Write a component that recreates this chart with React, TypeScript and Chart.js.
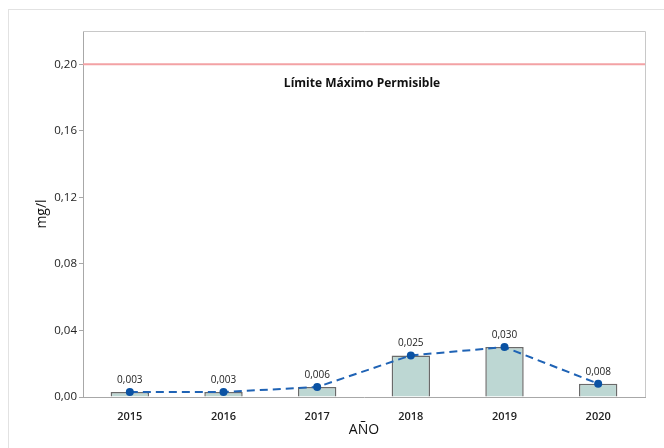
import React, { useEffect, useRef } from "react";
import { Chart, registerables } from "chart.js";

Chart.register(...registerables);

const years = ["2015", "2016", "2017", "2018", "2019", "2020"];
const values = [0.003, 0.003, 0.006, 0.025, 0.03, 0.008];
const valueLabels = ["0,003", "0,003", "0,006", "0,025", "0,030", "0,008"];
const limitValue = 0.2;
const limitLabel = "Límite Máximo Permisible";
const yTicks = [0, 0.04, 0.08, 0.12, 0.16, 0.2];

const FONT = "'Open Sans', 'Noto Sans', sans-serif";

const fmt = (v: number) => v.toFixed(2).replace(".", ",");

const overlay = {
  id: "overlay",
  beforeDatasetsDraw(chart: any) {
    const { ctx, chartArea, scales } = chart;
    const y = scales.y.getPixelForValue(limitValue);
    ctx.save();
    ctx.strokeStyle = "#c8c8c8";
    ctx.lineWidth = 1;
    ctx.beginPath();
    ctx.moveTo(chartArea.left, chartArea.top + 0.5);
    ctx.lineTo(chartArea.right + 0.5, chartArea.top + 0.5);
    ctx.lineTo(chartArea.right + 0.5, chartArea.bottom);
    ctx.stroke();
    ctx.strokeStyle = "#f3a2a5";
    ctx.lineWidth = 2;
    ctx.beginPath();
    ctx.moveTo(chartArea.left, y);
    ctx.lineTo(chartArea.right, y);
    ctx.stroke();
    ctx.fillStyle = "#111";
    ctx.font = `bold 12px ${FONT}`;
    ctx.textAlign = "center";
    ctx.textBaseline = "middle";
    ctx.fillText(limitLabel, (chartArea.left + chartArea.right) / 2 - 2, y + 19);
    ctx.restore();
  },
  afterDatasetsDraw(chart: any) {
    const { ctx } = chart;
    const meta = chart.getDatasetMeta(1);
    ctx.save();
    ctx.fillStyle = "#222";
    ctx.font = `10px ${FONT}`;
    ctx.textAlign = "center";
    ctx.textBaseline = "middle";
    meta.data.forEach((pt: any, i: number) => {
      ctx.fillText(valueLabels[i], pt.x, pt.y - 12);
    });
    ctx.restore();
  },
};

export default function App() {
  const ref = useRef<HTMLCanvasElement>(null);
  useEffect(() => {
    if (!ref.current) return;
    const chart = new Chart(ref.current, {
      type: "bar",
      data: {
        labels: years,
        datasets: [
          {
            type: "bar",
            data: values,
            backgroundColor: "#bdd7d3",
            borderColor: "#6a6a6a",
            borderWidth: 1.5,
            barPercentage: 0.41,
            categoryPercentage: 1,
            order: 2,
          },
          {
            type: "line",
            data: values,
            borderColor: "#1f63b5",
            borderWidth: 2,
            borderDash: [8, 5],
            pointRadius: 4,
            pointBackgroundColor: "#0a52a3",
            pointBorderColor: "#0a52a3",
            pointBorderWidth: 0,
            fill: false,
            tension: 0,
            order: 1,
          },
        ] as any,
      },
      options: {
        animation: false,
        responsive: false,
        maintainAspectRatio: false,
        layout: { padding: { left: 0, right: 19, top: 31, bottom: 0 } },
        plugins: { legend: { display: false }, tooltip: { enabled: false } },
        scales: {
          x: {
            grid: { display: false },
            border: { display: true, color: "#a8a8a8", width: 1 },
            ticks: { color: "#222", font: { family: FONT, size: 11, weight: "600" }, padding: 5 },
            title: {
              display: true,
              text: "AÑO",
              color: "#111",
              font: { family: FONT, size: 14 },
              padding: { top: 0, bottom: 9.6 },
            },
            afterFit(scale: any) {
              scale.height = 51;
            },
          },
          y: {
            min: 0,
            max: 0.22,
            afterBuildTicks(scale: any) {
              scale.ticks = yTicks.map((v) => ({ value: v }));
            },
            grid: { drawOnChartArea: false, drawTicks: true, tickLength: 4, color: "#a8a8a8" },
            border: { display: true, color: "#a8a8a8", width: 1 },
            ticks: {
              color: "#222",
              font: { family: FONT, size: 11.5 },
              padding: 2,
              callback: (v: any) => fmt(Number(v)),
            },
            title: {
              display: true,
              text: "mg/l",
              color: "#111",
              font: { family: FONT, size: 14 },
              padding: { top: 33.6, bottom: 0 },
            },
            afterFit(scale: any) {
              scale.width = 83;
            },
          },
        },
      } as any,
      plugins: [overlay],
    });
    return () => chart.destroy();
  }, []);
  return (
    <div style={{ position: "fixed", left: 0, top: 0, width: 664, height: 448, background: "#fff", overflow: "hidden" }}>
      <div
        style={{
          position: "absolute",
          left: 8,
          top: 9,
          width: 720,
          height: 500,
          border: "1px solid #e2e2e2",
          boxSizing: "border-box",
        }}
      />
      <canvas ref={ref} width={664} height={448} style={{ position: "absolute", left: 0, top: 0, width: 664, height: 448 }} />
    </div>
  );
}
